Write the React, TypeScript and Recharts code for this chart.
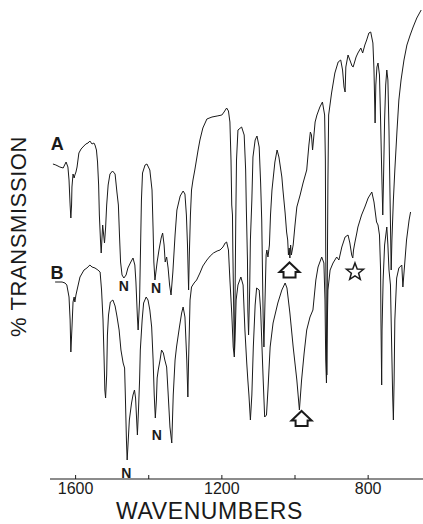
import React from "react";
import { LineChart, Line, XAxis, YAxis, ReferenceDot } from "recharts";

// IR spectra, wavenumbers (cm-1) and % transmission (arbitrary scale, no y ticks)
const wnA = [
  1662, 1654, 1643, 1634, 1626, 1621, 1618, 1615, 1613, 1611,
  1610, 1607, 1604, 1602, 1599, 1596, 1591, 1585, 1580, 1572,
  1566, 1561, 1555, 1550, 1547, 1543, 1540, 1537, 1535, 1532,
  1530, 1526, 1524, 1521, 1518, 1515, 1511, 1506, 1499, 1492,
  1487, 1483, 1480, 1477, 1473, 1468, 1462, 1457, 1449, 1443,
  1438, 1435, 1431, 1429, 1425, 1423, 1420, 1417, 1410, 1405,
  1397, 1391, 1388, 1386, 1383, 1377, 1372, 1366, 1362, 1358,
  1355, 1351, 1347, 1343, 1339, 1334, 1328, 1323, 1314, 1306,
  1301, 1297, 1294, 1291, 1289, 1286, 1283, 1279, 1274, 1265,
  1260, 1252, 1241, 1227, 1213, 1200, 1194, 1187, 1182, 1178,
  1175, 1173, 1171, 1170, 1168, 1166, 1164, 1162, 1160, 1156,
  1146, 1139, 1135, 1133, 1130, 1129, 1127, 1124, 1122, 1118,
  1115, 1109, 1104, 1098, 1094, 1091, 1089, 1087, 1085, 1082,
  1079, 1077, 1074, 1070, 1067, 1063, 1055, 1049, 1044, 1036,
  1033, 1027, 1023, 1020, 1018, 1016, 1014, 1012, 1010, 1005,
  1000, 995, 986, 978, 968, 962, 958, 955, 952, 949,
  945, 940, 932, 925, 919, 917, 916, 914, 913, 912,
  910, 908, 900, 891, 882, 875, 870, 866, 863, 861,
  855, 850, 844, 841, 833, 828, 820, 815, 809, 804,
  798, 793, 787, 784, 781, 779, 776, 773, 769, 766,
  763, 760, 758, 755, 752, 749, 746, 743, 740, 737,
  735, 731, 727, 721, 716, 710, 702, 694, 685, 677,
  667, 661, 655,
];
const trA = [
  63.0, 62.8, 62.4, 62.2, 63.4, 62.4, 59.8, 54.8, 52.2, 54.8,
  58.4, 61.0, 60.2, 60.8, 61.4, 62.4, 65.2, 66.0, 66.4, 67.0,
  67.2, 67.6, 67.0, 67.2, 66.8, 65.8, 63.4, 58.8, 52.8, 47.8,
  45.2, 50.8, 49.4, 47.2, 50.2, 54.8, 58.8, 61.0, 61.6, 61.0,
  57.4, 54.8, 48.8, 43.4, 40.8, 40.2, 40.8, 42.2, 43.4, 44.2,
  42.8, 39.4, 32.4, 29.8, 35.8, 43.8, 55.8, 61.2, 62.8, 63.0,
  61.8, 57.8, 49.8, 43.4, 39.8, 43.4, 45.8, 48.2, 49.2, 46.8,
  43.4, 44.4, 42.2, 38.8, 36.8, 41.4, 48.8, 53.8, 56.6, 57.6,
  57.0, 52.8, 46.8, 37.8, 44.8, 52.8, 57.8, 59.8, 61.8, 65.8,
  67.8, 70.2, 72.0, 72.4, 72.6, 72.8, 73.4, 74.2, 73.6, 71.4,
  63.8, 54.8, 52.8, 45.8, 35.8, 25.8, 35.8, 51.8, 63.8, 69.8,
  70.4, 68.8, 61.8, 53.8, 43.8, 33.8, 28.8, 37.8, 47.8, 55.8,
  64.4, 67.8, 68.6, 66.4, 59.2, 51.8, 41.8, 31.8, 26.4, 35.8,
  44.8, 45.8, 44.4, 46.8, 52.8, 57.8, 63.4, 65.8, 64.4, 60.4,
  57.8, 53.2, 49.4, 47.8, 44.8, 46.2, 44.2, 46.8, 44.8, 46.8,
  50.8, 54.4, 56.8, 59.2, 61.8, 66.8, 69.4, 68.8, 65.8, 68.2,
  71.4, 72.8, 74.4, 75.4, 72.8, 63.8, 45.8, 27.8, 20.8, 35.8,
  59.8, 72.8, 77.2, 81.2, 83.4, 83.8, 81.8, 78.4, 77.4, 82.4,
  84.8, 83.8, 82.6, 82.4, 84.4, 85.2, 86.2, 85.2, 86.8, 87.8,
  89.2, 89.4, 87.2, 81.8, 71.2, 78.8, 82.4, 83.2, 80.8, 71.8,
  61.8, 52.8, 59.8, 71.8, 78.8, 81.8, 79.8, 69.8, 55.8, 41.8,
  47.8, 55.8, 61.8, 69.8, 75.8, 79.8, 83.8, 86.8, 88.8, 90.4,
  92.2, 93.0, 93.8,
];

const wnB = [
  1656, 1648, 1637, 1629, 1624, 1618, 1615, 1613, 1610, 1607,
  1604, 1602, 1599, 1596, 1588, 1577, 1569, 1561, 1555, 1547,
  1539, 1533, 1529, 1525, 1522, 1520, 1518, 1515, 1513, 1510,
  1505, 1498, 1492, 1487, 1481, 1476, 1470, 1466, 1464, 1461,
  1459, 1456, 1453, 1447, 1443, 1439, 1436, 1433, 1431, 1428,
  1425, 1423, 1418, 1414, 1407, 1402, 1397, 1392, 1388, 1385,
  1382, 1379, 1377, 1374, 1369, 1365, 1360, 1356, 1351, 1347,
  1342, 1337, 1333, 1328, 1324, 1316, 1310, 1306, 1301, 1296,
  1293, 1291, 1287, 1283, 1276, 1269, 1260, 1252, 1241, 1232,
  1223, 1213, 1205, 1197, 1191, 1187, 1182, 1178, 1173, 1169,
  1166, 1164, 1161, 1156, 1148, 1142, 1137, 1132, 1129, 1126,
  1122, 1118, 1114, 1109, 1105, 1098, 1094, 1091, 1087, 1083,
  1078, 1074, 1068, 1060, 1047, 1036, 1027, 1022, 1014, 1005,
  995, 988, 982, 975, 968, 959, 951, 943, 937, 927,
  921, 918, 916, 914, 912, 910, 904, 896, 886, 880,
  872, 863, 855, 850, 845, 842, 840, 836, 831, 828,
  818, 809, 800, 790, 784, 777, 773, 769, 766, 765,
  763, 762, 759, 755, 749, 746, 743, 739, 736, 733,
  731, 729, 727, 722, 716, 708, 705, 702, 695, 688,
  684,
];
const trB = [
  39.4, 39.4, 39.4, 39.2, 38.8, 36.4, 31.8, 25.4, 30.2, 35.4,
  36.4, 35.4, 36.8, 37.8, 40.4, 41.8, 42.2, 42.8, 42.4, 42.2,
  41.8, 41.4, 37.8, 31.8, 23.8, 17.8, 16.2, 20.8, 28.8, 32.8,
  35.4, 35.8, 34.6, 32.6, 29.8, 25.8, 23.2, 22.2, 16.8, 7.8,
  3.8, 7.8, 11.8, 15.2, 16.8, 17.8, 16.2, 11.8, 8.8, 13.8,
  19.8, 25.8, 31.8, 35.2, 36.4, 35.8, 33.8, 30.4, 23.8, 16.8,
  12.2, 15.8, 20.2, 21.8, 23.8, 25.8, 25.2, 23.8, 22.4, 17.2,
  10.4, 7.2, 16.8, 23.8, 26.4, 30.4, 33.2, 34.4, 32.4, 23.8,
  16.4, 23.8, 35.8, 38.4, 39.2, 39.8, 41.2, 42.6, 43.8, 44.6,
  45.2, 45.6, 45.8, 46.4, 47.2, 47.4, 45.8, 39.8, 33.2, 26.4,
  24.4, 27.8, 35.8, 38.8, 40.4, 38.8, 29.8, 23.2, 19.8, 16.8,
  11.8, 16.8, 26.4, 34.8, 38.2, 37.8, 33.8, 27.8, 19.8, 12.4,
  12.8, 17.8, 26.4, 31.2, 35.2, 37.8, 39.2, 38.2, 33.2, 26.4,
  19.8, 13.8, 19.8, 25.2, 29.8, 32.4, 33.8, 39.8, 42.4, 44.4,
  43.2, 35.8, 23.8, 19.2, 29.8, 37.8, 41.8, 43.2, 44.4, 43.8,
  46.4, 48.4, 48.8, 47.2, 44.8, 44.2, 45.8, 47.4, 49.2, 50.4,
  52.8, 54.4, 56.2, 57.4, 55.4, 51.4, 50.8, 48.8, 41.8, 31.8,
  18.8, 29.8, 39.8, 46.8, 50.4, 46.8, 41.8, 38.8, 27.8, 16.8,
  11.8, 19.8, 31.8, 40.2, 42.2, 42.8, 38.4, 41.2, 47.8, 51.8,
  53.4,
];

const xTicks = [1600, 1400, 1200, 1000, 800];
const labelledTicks = [1600, 1200, 800];

// band markers: [wavenumber, transmission]
const nujolMarks = [
  [1468, 38.6],
  [1380, 38.2],
  [1378, 8.8],
  [1461, 1.2],
];
const arrowMarks = [
  [1015, 41.7],
  [982, 12],
];
const starMark = [836, 41.4];
const traceLabels = [
  { name: "A", wn: 1650, t: 67.1 },
  { name: "B", wn: 1651, t: 41.3 },
];

const spectrumA = wnA.map((wn, i) => ({ wn, t: trA[i] }));
const spectrumB = wnB.map((wn, i) => ({ wn, t: trB[i] }));

const FONT = "'Liberation Sans', Arial, Helvetica, sans-serif";
const INK = "#1a1a1a";

function WaveTick({ x, y, payload }: any) {
  const show = labelledTicks.includes(payload.value);
  return (
    <g>
      <line x1={x} x2={x} y1={y - 4} y2={y} stroke={INK} strokeWidth={1} />
      {show && (
        <text x={x} y={y + 15} textAnchor="middle" fontSize={16} fill={INK} fontFamily={FONT}>
          {payload.value}
        </text>
      )}
    </g>
  );
}

function ArrowShape({ cx, cy }: any) {
  const pts = [
    [0, -8], [10, 1.5], [6, 1.5], [6, 7], [-6, 7], [-6, 1.5], [-10, 1.5],
  ].map(([dx, dy]) => `${cx + dx},${cy + dy}`).join(" ");
  return <polygon points={pts} fill="#fff" stroke={INK} strokeWidth={2} strokeLinejoin="miter" />;
}

function StarShape({ cx, cy }: any) {
  const pts: string[] = [];
  for (let k = 0; k < 10; k++) {
    const r = k % 2 === 0 ? 9 : 3.8;
    const a = -Math.PI / 2 + (k * Math.PI) / 5;
    pts.push(`${cx + r * Math.cos(a)},${cy + r * Math.sin(a)}`);
  }
  return <polygon points={pts.join(" ")} fill="#fff" stroke={INK} strokeWidth={1.5} />;
}

function TextShape(text: string, size: number, weight: string) {
  return ({ cx, cy }: any) => (
    <text x={cx} y={cy} dy="0.36em" textAnchor="middle" fontSize={size} fontWeight={weight} fill={INK} fontFamily={FONT}>
      {text}
    </text>
  );
}

export default function App() {
  return (
    <div style={{ position: "absolute", left: 0, top: 0, width: 423, height: 524, background: "#fff" }}>
      <LineChart width={423} height={524} data={spectrumA} margin={{ top: 0, right: 0, left: 0, bottom: 0 }}>
        <XAxis
          dataKey="wn"
          type="number"
          domain={[650, 1670]}
          reversed
          allowDataOverflow
          ticks={xTicks}
          interval={0}
          height={45}
          tickSize={0}
          tickMargin={0}
          tick={<WaveTick />}
          axisLine={{ stroke: INK, strokeWidth: 1.2 }}
          label={{
            content: () => (
              <text x={209.5} y={518.5} textAnchor="middle" fontSize={23} letterSpacing={0.6} fill={INK} fontFamily={FONT}>
                WAVENUMBERS
              </text>
            ),
          }}
        />
        <YAxis
          type="number"
          domain={[0, 95.8]}
          allowDataOverflow
          width={50}
          tick={false}
          axisLine={false}
          tickLine={false}
          label={{
            content: () => (
              <text
                x={25.5}
                y={236.5}
                transform="rotate(-90, 25.5, 236.5)"
                textAnchor="middle"
                fontSize={22}
                letterSpacing={0.6}
                fill={INK}
                fontFamily={FONT}
              >
                % TRANSMISSION
              </text>
            ),
          }}
        />
        <Line data={spectrumA} dataKey="t" type="linear" stroke={INK} strokeWidth={1} dot={false} isAnimationActive={false} />
        <Line data={spectrumB} dataKey="t" type="linear" stroke={INK} strokeWidth={1} dot={false} isAnimationActive={false} />
        {traceLabels.map((l) => (
          <ReferenceDot key={l.name} x={l.wn} y={l.t} r={0} shape={TextShape(l.name, 18, "bold")} />
        ))}
        {nujolMarks.map(([wn, t], i) => (
          <ReferenceDot key={"n" + i} x={wn} y={t} r={0} shape={TextShape("N", 14, "bold")} />
        ))}
        {arrowMarks.map(([wn, t], i) => (
          <ReferenceDot key={"a" + i} x={wn} y={t} r={0} shape={<ArrowShape />} />
        ))}
        <ReferenceDot x={starMark[0]} y={starMark[1]} r={0} shape={<StarShape />} />
      </LineChart>
    </div>
  );
}
